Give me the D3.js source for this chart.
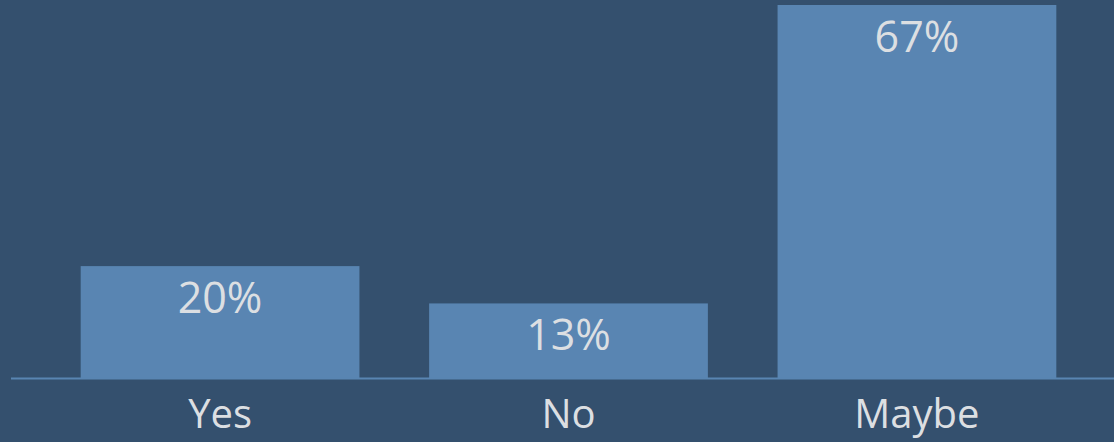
<!DOCTYPE html>
<html>
<head>
<meta charset="utf-8">
<script src="https://cdn.jsdelivr.net/npm/d3@7"></script>
<style>
  html, body { margin: 0; padding: 0; background: #34506e; overflow: hidden; }
  svg { display: block; }
  text { font-family: "Open Sans", "Noto Sans", sans-serif; fill: #dcdfe2; }
</style>
</head>
<body>
<svg id="chart" width="1114" height="442"></svg>
<script>
// Poll answers and their share of responses (percent)
const categories = ["Yes", "No", "Maybe"];
const shares = [20, 13.33, 66.67];

const width = 1114, height = 442;
const baseY = 378;

const svg = d3.select("#chart");

svg.append("rect")
  .attr("width", width).attr("height", height)
  .attr("fill", "#34506e");

const x = d3.scaleBand()
  .domain(categories)
  .range([11, 1126])
  .paddingInner(0.2)
  .paddingOuter(0.2);

const y = d3.scaleLinear()
  .domain([0, 66.67])
  .range([baseY, 5]);

const data = categories.map((c, i) => ({ cat: c, v: shares[i] }));

// Bars
svg.append("g").selectAll("rect")
  .data(data)
  .join("rect")
  .attr("x", d => x(d.cat))
  .attr("y", d => y(d.v))
  .attr("width", x.bandwidth())
  .attr("height", d => y(0) - y(d.v))
  .attr("fill", "#5985b2");

// Value labels inside the bars
svg.append("g").selectAll("text")
  .data(data)
  .join("text")
  .attr("x", d => x(d.cat) + x.bandwidth() / 2)
  .attr("y", d => y(d.v) + 47)
  .attr("text-anchor", "middle")
  .attr("font-size", 43)
  .text(d => Math.round(d.v) + "%");

// Baseline
svg.append("line")
  .attr("x1", 11).attr("x2", width)
  .attr("y1", baseY + 0.5).attr("y2", baseY + 0.5)
  .attr("stroke", "#5985b2")
  .attr("stroke-width", 2);

// Category labels
const axis = d3.axisBottom(x).tickSize(0).tickPadding(0);
const g = svg.append("g").attr("transform", `translate(0,${baseY})`).call(axis);
g.select(".domain").remove();
g.selectAll(".tick text")
  .attr("y", 50)
  .attr("dy", 0)
  .attr("font-size", 40)
  .attr("font-family", null)
  .attr("fill", "#dcdfe2");
</script>
</body>
</html>
